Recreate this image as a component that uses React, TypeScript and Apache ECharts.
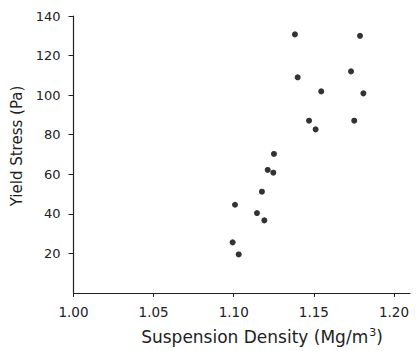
import React, { useEffect, useRef } from "react";
import * as echarts from "echarts";

const density: number[] = [
  1.1382, 1.1788, 1.1399, 1.1732, 1.1546, 1.1809, 1.147, 1.1511, 1.1752,
  1.1251, 1.1212, 1.1247, 1.1008, 1.1176, 1.1145, 1.1191, 1.0993, 1.1031,
];
const yieldStress: number[] = [
  130.7, 130.0, 109.0, 112.0, 101.9, 100.9, 87.1, 82.7, 87.1,
  70.3, 62.2, 60.8, 44.6, 51.2, 40.4, 36.7, 25.6, 19.5,
];
const xTitle = "Suspension Density (Mg/m{sup|3})";
const yTitle = "Yield Stress (Pa)";

export default function App() {
  const ref = useRef<HTMLDivElement>(null);
  useEffect(() => {
    document.body.style.margin = "0";
    if (!ref.current) return;
    const chart = echarts.init(ref.current, null, { renderer: "svg" });
    const font = "DejaVu Sans";
    const ink = "#222";
    chart.setOption({
      animation: false,
      backgroundColor: "#fff",
      grid: { left: 73.5, right: 6, top: 16, bottom: 58 },
      xAxis: {
        type: "value",
        min: 1.0,
        max: 1.21,
        interval: 0.05,
        splitLine: { show: false },
        axisLine: { lineStyle: { color: ink, width: 1.2 } },
        axisTick: { length: 4, lineStyle: { color: ink } },
        axisLabel: {
          showMaxLabel: false,
          margin: 12,
          color: ink,
          fontFamily: font,
          fontSize: 13.5,
          formatter: (v: number) => v.toFixed(2),
        },
      },
      yAxis: {
        type: "value",
        min: 0,
        max: 140,
        interval: 20,
        splitLine: { show: false },
        axisLine: { lineStyle: { color: ink, width: 1.2 } },
        axisTick: { length: 5, lineStyle: { color: ink } },
        axisLabel: {
          showMinLabel: false,
          margin: 13,
          color: ink,
          fontFamily: font,
          fontSize: 13,
        },
      },
      graphic: [
        {
          type: "text",
          x: 17,
          y: 146,
          rotation: Math.PI / 2,
          style: {
            text: yTitle,
            fill: ink,
            font: `15px "${font}"`,
            textAlign: "center",
            textVerticalAlign: "middle",
          },
        },
        {
          type: "text",
          x: 262,
          y: 337,
          style: {
            text: xTitle,
            fill: ink,
            font: `17px "${font}"`,
            textAlign: "center",
            textVerticalAlign: "middle",
            rich: {
              sup: { fontSize: 11, fill: ink, fontFamily: font, verticalAlign: "top", padding: [0, 0, 9, 1] },
            },
          },
        },
      ],
      series: [
        {
          type: "scatter",
          symbol: "circle",
          symbolSize: 6,
          itemStyle: { color: "#000" },
          data: density.map((d, i) => [d, yieldStress[i]]),
        },
      ],
    });
    return () => chart.dispose();
  }, []);
  return <div ref={ref} style={{ width: 416, height: 351 }} />;
}
